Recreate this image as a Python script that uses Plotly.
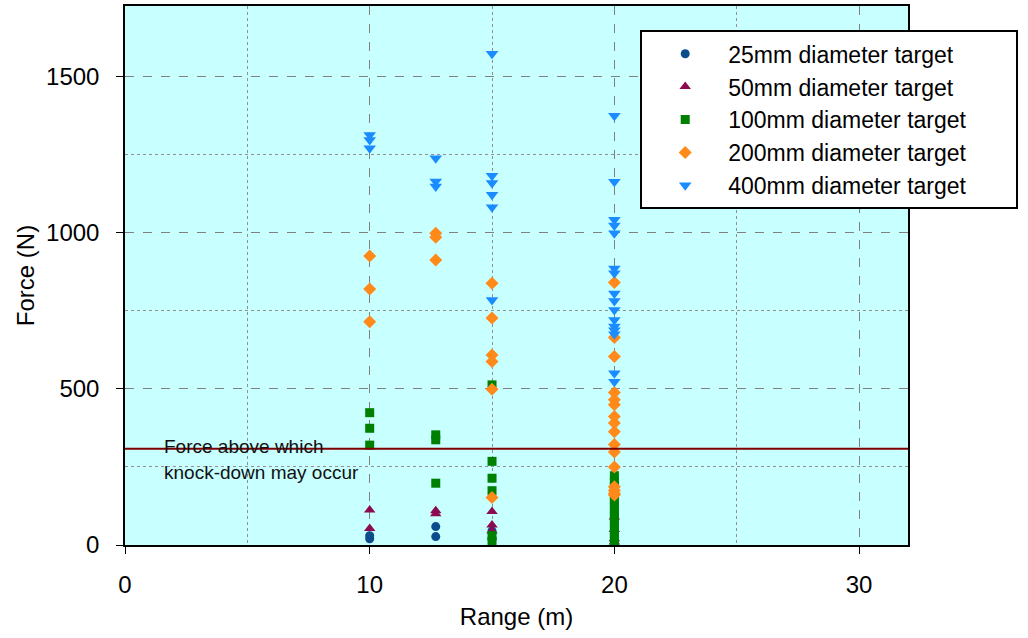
import plotly.graph_objects as go

# ---- data ----
x_25 = [10, 10, 12.7, 12.7, 15, 15, 20, 20]
y_25 = [20, 30, 59, 27, 45, 20, 10, 5]

x_50 = [10, 10, 12.7, 12.7, 15, 15, 15, 20, 20, 20, 20]
y_50 = [112, 53, 110, 100, 107, 64, 45, 90, 50, 20, 10]

x_100 = [10, 10, 10, 12.7, 12.7, 12.7, 15, 15, 15, 15, 15, 15] + [20] * 15
y_100 = [424, 374, 320, 353, 337, 198, 513, 268, 214, 174, 30, 12,
         222, 205, 190, 175, 160, 145, 130, 115, 100, 85, 70, 55, 40, 25, 12]

x_200 = [10, 10, 10, 12.7, 12.7, 12.7, 15, 15, 15, 15, 15, 15] + [20] * 16
y_200 = [926, 820, 715, 999, 986, 913, 839, 727, 609, 588, 499, 152,
         841, 665, 604, 489, 465, 449, 412, 391, 363, 322, 298, 250, 187, 175, 165, 160]

x_400 = [10, 10, 10, 12.7, 12.7, 12.7, 15, 15, 15, 15, 15, 15] + [20] * 16
y_400 = [1314, 1298, 1271, 1239, 1165, 1149, 1574, 1183, 1160, 1122, 1082, 785,
         1375, 1164, 1042, 1024, 999, 886, 871, 806, 782, 753, 721, 700, 688, 675, 550, 523]

THRESHOLD = 308
THRESHOLD_TEXT = ["Force above which", "knock-down may occur"]

series = [
    ("25mm diameter target", x_25, y_25, "circle", "#0b4d8c", 9),
    ("50mm diameter target", x_50, y_50, "triangle-up", "#8b0a50", 10),
    ("100mm diameter target", x_100, y_100, "square", "#008000", 9),
    ("200mm diameter target", x_200, y_200, "diamond", "#ff8a1a", 10),
    ("400mm diameter target", x_400, y_400, "triangle-down", "#1a8cff", 11),
]

FONT = "Arial, Liberation Sans, sans-serif"

fig = go.Figure()
for i, (name, xs, ys, sym, col, sz) in enumerate(series):
    fig.add_trace(go.Scatter(
        x=xs, y=ys, mode="markers", name=name + "\u00a0" * 7, legendgroup=f"g{i}",
        marker=dict(symbol=sym, color=col, size=sz, line=dict(width=0)),
    ))

fig.add_hline(y=THRESHOLD, line=dict(color="#800000", width=2))

fig.add_annotation(x=1.5, y=317, text=THRESHOLD_TEXT[0], showarrow=False,
                   xanchor="left", yanchor="middle", font=dict(size=19, color="#111111", family=FONT))
fig.add_annotation(x=1.5, y=231, text=THRESHOLD_TEXT[1], showarrow=False,
                   xanchor="left", yanchor="middle", font=dict(size=19, color="#111111", family=FONT))

axis_common = dict(
    showgrid=True, gridcolor="#808080", griddash="dash", gridwidth=1,
    showline=True, linecolor="black", linewidth=1.5, mirror=True,
    ticks="outside", ticklen=7, tickcolor="black",
    tickfont=dict(size=24, family=FONT, color="black"),
    zeroline=False, automargin=False,
)

fig.update_xaxes(
    range=[0, 32], dtick=10, tick0=0,
    minor=dict(dtick=5, showgrid=True, gridcolor="#909090", griddash="dot", ticks=""),
    title=dict(text="Range (m)", font=dict(size=24, family=FONT, color="black"), standoff=12),
    ticklabelstandoff=10,
    **axis_common,
)
fig.update_yaxes(
    range=[0, 1727], dtick=500, tick0=0,
    minor=dict(dtick=250, showgrid=True, gridcolor="#909090", griddash="dot", ticks=""),
    title=dict(text="Force (N)", font=dict(size=24, family=FONT, color="black"), standoff=5),
    ticklabelstandoff=12,
    **axis_common,
)

fig.update_layout(
    width=1028, height=638,
    margin=dict(l=125, r=120, t=6, b=93),
    paper_bgcolor="white", plot_bgcolor="#c8ffff",
    font=dict(family=FONT, color="black"),
    legend=dict(
        x=0.658, y=0.955, xanchor="left", yanchor="top",
        bgcolor="white", bordercolor="black", borderwidth=2,
        font=dict(size=23, family=FONT, color="black"),
        tracegroupgap=0, itemwidth=76,
    ),
    showlegend=True,
)

fig.write_html("out.html", config={"displayModeBar": False},
               post_script="document.body.style.margin='0px';document.body.style.overflow='hidden';")
